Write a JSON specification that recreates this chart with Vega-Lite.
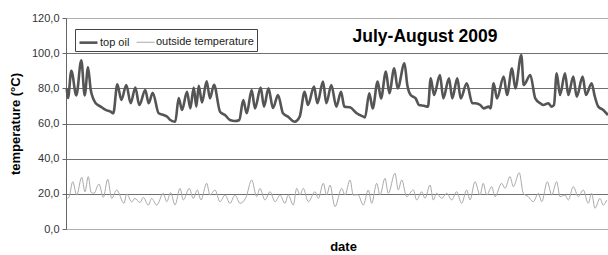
{
  "$schema": "https://vega.github.io/schema/vega-lite/v6.json",
  "autosize": {"type": "none"},
  "padding": {"left": 66, "top": 18, "right": 0, "bottom": 26},
  "width": 542,
  "height": 211,
  "background": "white",
  "title": {"text": "July-August 2009", "font": "Liberation Sans", "fontSize": 17.5, "fontWeight": "bold", "color": "#000000", "anchor": "middle", "dx": 88, "offset": -33},
  "config": {"font": "Liberation Sans", "view": {"stroke": null}},
  "data": {"values": [
    {"s":"top oil","d":0.08,"t":80},{"s":"top oil","d":0.23,"t":74.5},{"s":"top oil","d":0.61,"t":90},{"s":"top oil","d":1.18,"t":76},{"s":"top oil","d":1.75,"t":96},{"s":"top oil","d":2.14,"t":76},{"s":"top oil","d":2.52,"t":92},{"s":"top oil","d":2.83,"t":79},{"s":"top oil","d":3.4,"t":71.5},{"s":"top oil","d":3.97,"t":69.6},{"s":"top oil","d":4.54,"t":67.7},{"s":"top oil","d":5.11,"t":66.7},{"s":"top oil","d":5.41,"t":65.8},{"s":"top oil","d":5.87,"t":82.3},{"s":"top oil","d":6.33,"t":73.4},{"s":"top oil","d":6.9,"t":81.9},{"s":"top oil","d":7.4,"t":71.5},{"s":"top oil","d":7.93,"t":80.5},{"s":"top oil","d":8.38,"t":70.5},{"s":"top oil","d":9.07,"t":79},{"s":"top oil","d":9.46,"t":71.5},{"s":"top oil","d":9.92,"t":77.5},{"s":"top oil","d":10.6,"t":65.8},{"s":"top oil","d":11.18,"t":64.8},{"s":"top oil","d":11.55,"t":64},{"s":"top oil","d":11.93,"t":62},{"s":"top oil","d":12.5,"t":61},{"s":"top oil","d":12.89,"t":74.5},{"s":"top oil","d":13.27,"t":67.7},{"s":"top oil","d":13.84,"t":78},{"s":"top oil","d":14.22,"t":68.6},{"s":"top oil","d":14.61,"t":80.5},{"s":"top oil","d":14.91,"t":69.6},{"s":"top oil","d":15.18,"t":81.5},{"s":"top oil","d":15.56,"t":72},{"s":"top oil","d":16.09,"t":84},{"s":"top oil","d":16.47,"t":74.3},{"s":"top oil","d":16.93,"t":82},{"s":"top oil","d":17.62,"t":66.7},{"s":"top oil","d":18.19,"t":64.8},{"s":"top oil","d":18.76,"t":62},{"s":"top oil","d":19.33,"t":61.4},{"s":"top oil","d":19.82,"t":62},{"s":"top oil","d":20.28,"t":73.4},{"s":"top oil","d":20.67,"t":65.8},{"s":"top oil","d":21.24,"t":79},{"s":"top oil","d":21.62,"t":68.6},{"s":"top oil","d":22.27,"t":80.4},{"s":"top oil","d":22.65,"t":69.6},{"s":"top oil","d":23.16,"t":80},{"s":"top oil","d":23.68,"t":68.8},{"s":"top oil","d":24.25,"t":76.2},{"s":"top oil","d":24.82,"t":65.8},{"s":"top oil","d":25.39,"t":63.9},{"s":"top oil","d":26.16,"t":61},{"s":"top oil","d":26.73,"t":63.9},{"s":"top oil","d":27.3,"t":78},{"s":"top oil","d":27.68,"t":70.5},{"s":"top oil","d":28.37,"t":81},{"s":"top oil","d":28.75,"t":71.5},{"s":"top oil","d":29.4,"t":83.8},{"s":"top oil","d":29.78,"t":71.5},{"s":"top oil","d":30.35,"t":81.9},{"s":"top oil","d":30.92,"t":69.6},{"s":"top oil","d":31.46,"t":78},{"s":"top oil","d":31.84,"t":69.6},{"s":"top oil","d":32.49,"t":69.2},{"s":"top oil","d":33.25,"t":65.8},{"s":"top oil","d":34.01,"t":63.9},{"s":"top oil","d":34.2,"t":63.5},{"s":"top oil","d":34.69,"t":77.2},{"s":"top oil","d":35.08,"t":68.6},{"s":"top oil","d":35.65,"t":83.8},{"s":"top oil","d":36.03,"t":74.3},{"s":"top oil","d":36.6,"t":89.5},{"s":"top oil","d":36.98,"t":77.2},{"s":"top oil","d":37.55,"t":91.4},{"s":"top oil","d":37.94,"t":80},{"s":"top oil","d":38.72,"t":94.2},{"s":"top oil","d":39.04,"t":81.9},{"s":"top oil","d":39.43,"t":76.2},{"s":"top oil","d":40.0,"t":74.3},{"s":"top oil","d":40.38,"t":70.5},{"s":"top oil","d":40.95,"t":70.1},{"s":"top oil","d":41.41,"t":69.6},{"s":"top oil","d":41.72,"t":85.7},{"s":"top oil","d":42.1,"t":76.2},{"s":"top oil","d":42.78,"t":87.6},{"s":"top oil","d":43.16,"t":74.3},{"s":"top oil","d":43.81,"t":85.7},{"s":"top oil","d":44.19,"t":74.3},{"s":"top oil","d":44.76,"t":85.7},{"s":"top oil","d":45.15,"t":74.3},{"s":"top oil","d":45.84,"t":82.9},{"s":"top oil","d":46.48,"t":71.5},{"s":"top oil","d":46.82,"t":71.5},{"s":"top oil","d":47.39,"t":70.5},{"s":"top oil","d":47.78,"t":68.6},{"s":"top oil","d":48.35,"t":69.6},{"s":"top oil","d":48.56,"t":68.6},{"s":"top oil","d":48.92,"t":82.9},{"s":"top oil","d":49.3,"t":74.3},{"s":"top oil","d":50.07,"t":86.7},{"s":"top oil","d":50.45,"t":76.2},{"s":"top oil","d":51.02,"t":91.4},{"s":"top oil","d":51.4,"t":80},{"s":"top oil","d":52.08,"t":99},{"s":"top oil","d":52.36,"t":81.9},{"s":"top oil","d":53.11,"t":87.6},{"s":"top oil","d":53.68,"t":74.3},{"s":"top oil","d":54.26,"t":71.5},{"s":"top oil","d":54.6,"t":70.5},{"s":"top oil","d":55.17,"t":71.5},{"s":"top oil","d":55.56,"t":69.6},{"s":"top oil","d":55.82,"t":70.5},{"s":"top oil","d":56.13,"t":88.6},{"s":"top oil","d":56.51,"t":76.2},{"s":"top oil","d":57.08,"t":88.6},{"s":"top oil","d":57.46,"t":76.2},{"s":"top oil","d":58.03,"t":86.7},{"s":"top oil","d":58.42,"t":75.2},{"s":"top oil","d":59.1,"t":86.7},{"s":"top oil","d":59.48,"t":76.2},{"s":"top oil","d":60.13,"t":82.9},{"s":"top oil","d":60.46,"t":76},{"s":"top oil","d":60.89,"t":69.6},{"s":"top oil","d":61.46,"t":67.7},{"s":"top oil","d":62.0,"t":64.8},
    {"s":"outside temperature","d":0.08,"t":17.4},{"s":"outside temperature","d":0.34,"t":18},{"s":"outside temperature","d":0.77,"t":26.9},{"s":"outside temperature","d":1.22,"t":19.3},{"s":"outside temperature","d":1.8,"t":29.4},{"s":"outside temperature","d":2.17,"t":21.2},{"s":"outside temperature","d":2.55,"t":29.8},{"s":"outside temperature","d":2.86,"t":21},{"s":"outside temperature","d":3.2,"t":20.3},{"s":"outside temperature","d":3.77,"t":25.6},{"s":"outside temperature","d":4.27,"t":18},{"s":"outside temperature","d":4.77,"t":28.3},{"s":"outside temperature","d":5.23,"t":17.4},{"s":"outside temperature","d":5.8,"t":22.2},{"s":"outside temperature","d":6.63,"t":14.6},{"s":"outside temperature","d":6.94,"t":19.9},{"s":"outside temperature","d":7.52,"t":15.5},{"s":"outside temperature","d":7.89,"t":17.4},{"s":"outside temperature","d":8.46,"t":15},{"s":"outside temperature","d":8.84,"t":18},{"s":"outside temperature","d":9.41,"t":13.6},{"s":"outside temperature","d":9.8,"t":17.4},{"s":"outside temperature","d":10.38,"t":13.6},{"s":"outside temperature","d":11.13,"t":20.3},{"s":"outside temperature","d":11.52,"t":15.5},{"s":"outside temperature","d":11.98,"t":20.7},{"s":"outside temperature","d":12.47,"t":13.6},{"s":"outside temperature","d":13.04,"t":23.1},{"s":"outside temperature","d":13.42,"t":16.5},{"s":"outside temperature","d":14.1,"t":23.1},{"s":"outside temperature","d":14.56,"t":17.4},{"s":"outside temperature","d":15.02,"t":22.2},{"s":"outside temperature","d":15.44,"t":16.5},{"s":"outside temperature","d":16.09,"t":26},{"s":"outside temperature","d":16.47,"t":19.3},{"s":"outside temperature","d":17.04,"t":22.2},{"s":"outside temperature","d":17.62,"t":15.5},{"s":"outside temperature","d":18.19,"t":19.3},{"s":"outside temperature","d":18.76,"t":14.6},{"s":"outside temperature","d":19.33,"t":19.3},{"s":"outside temperature","d":19.91,"t":14.6},{"s":"outside temperature","d":20.59,"t":18},{"s":"outside temperature","d":21.24,"t":27.9},{"s":"outside temperature","d":21.81,"t":18.4},{"s":"outside temperature","d":22.19,"t":23.1},{"s":"outside temperature","d":22.76,"t":16.5},{"s":"outside temperature","d":23.34,"t":21.2},{"s":"outside temperature","d":23.91,"t":15.5},{"s":"outside temperature","d":24.48,"t":19.3},{"s":"outside temperature","d":25.05,"t":14.6},{"s":"outside temperature","d":25.43,"t":19.3},{"s":"outside temperature","d":26.0,"t":13.6},{"s":"outside temperature","d":26.39,"t":23.1},{"s":"outside temperature","d":26.77,"t":19.3},{"s":"outside temperature","d":27.14,"t":23.1},{"s":"outside temperature","d":27.72,"t":15.5},{"s":"outside temperature","d":28.48,"t":21.2},{"s":"outside temperature","d":28.86,"t":17.4},{"s":"outside temperature","d":29.43,"t":26},{"s":"outside temperature","d":29.82,"t":19.3},{"s":"outside temperature","d":30.2,"t":25},{"s":"outside temperature","d":30.77,"t":12.7},{"s":"outside temperature","d":31.54,"t":23.1},{"s":"outside temperature","d":31.91,"t":19.3},{"s":"outside temperature","d":32.49,"t":27.9},{"s":"outside temperature","d":32.86,"t":19.3},{"s":"outside temperature","d":33.4,"t":19.5},{"s":"outside temperature","d":34.01,"t":13.6},{"s":"outside temperature","d":34.58,"t":22.2},{"s":"outside temperature","d":34.97,"t":14.6},{"s":"outside temperature","d":35.54,"t":26},{"s":"outside temperature","d":35.92,"t":19.3},{"s":"outside temperature","d":36.49,"t":28.8},{"s":"outside temperature","d":36.87,"t":20.3},{"s":"outside temperature","d":37.63,"t":31.7},{"s":"outside temperature","d":38.01,"t":22.2},{"s":"outside temperature","d":38.4,"t":27.9},{"s":"outside temperature","d":38.97,"t":18.4},{"s":"outside temperature","d":39.73,"t":22.2},{"s":"outside temperature","d":40.12,"t":16.5},{"s":"outside temperature","d":40.69,"t":21.2},{"s":"outside temperature","d":41.07,"t":17.4},{"s":"outside temperature","d":41.64,"t":25},{"s":"outside temperature","d":42.02,"t":16.5},{"s":"outside temperature","d":42.4,"t":20.3},{"s":"outside temperature","d":42.98,"t":17.4},{"s":"outside temperature","d":43.55,"t":20.3},{"s":"outside temperature","d":44.12,"t":16.5},{"s":"outside temperature","d":44.69,"t":21.2},{"s":"outside temperature","d":45.26,"t":14.6},{"s":"outside temperature","d":45.84,"t":22.2},{"s":"outside temperature","d":46.21,"t":16.5},{"s":"outside temperature","d":46.79,"t":26.9},{"s":"outside temperature","d":47.36,"t":19.3},{"s":"outside temperature","d":47.73,"t":26},{"s":"outside temperature","d":48.12,"t":19.3},{"s":"outside temperature","d":48.7,"t":24.1},{"s":"outside temperature","d":49.07,"t":18.4},{"s":"outside temperature","d":49.84,"t":26},{"s":"outside temperature","d":50.22,"t":23.1},{"s":"outside temperature","d":50.79,"t":29.8},{"s":"outside temperature","d":51.17,"t":24.1},{"s":"outside temperature","d":51.85,"t":32},{"s":"outside temperature","d":52.31,"t":20.3},{"s":"outside temperature","d":52.88,"t":18.4},{"s":"outside temperature","d":53.45,"t":15.5},{"s":"outside temperature","d":54.03,"t":20.3},{"s":"outside temperature","d":54.42,"t":15.5},{"s":"outside temperature","d":55.06,"t":26.9},{"s":"outside temperature","d":55.56,"t":19.3},{"s":"outside temperature","d":56.13,"t":26.9},{"s":"outside temperature","d":56.51,"t":18.4},{"s":"outside temperature","d":57.08,"t":19.3},{"s":"outside temperature","d":57.46,"t":16.5},{"s":"outside temperature","d":58.03,"t":24.1},{"s":"outside temperature","d":58.6,"t":18.4},{"s":"outside temperature","d":59.17,"t":22.2},{"s":"outside temperature","d":59.74,"t":14.6},{"s":"outside temperature","d":60.13,"t":20.3},{"s":"outside temperature","d":60.51,"t":11.8},{"s":"outside temperature","d":61.08,"t":17.4},{"s":"outside temperature","d":61.46,"t":13.6},{"s":"outside temperature","d":61.85,"t":16.5}
  ]},
  "mark": {"type": "line", "interpolate": "monotone"},
  "encoding": {
    "x": {"field": "d", "type": "quantitative", "scale": {"domain": [0, 62], "nice": false, "zero": false},
      "axis": {"labels": false, "ticks": false, "grid": false, "title": "date", "titleFont": "Liberation Sans", "titleFontSize": 13, "titleFontWeight": "bold", "titleColor": "#000000", "titlePadding": 11, "domainColor": "#b0b0b0", "domainWidth": 1, "titleX": 277}},
    "y": {"field": "t", "type": "quantitative", "scale": {"domain": [0, 120], "nice": false},
      "axis": {"values": [0, 20, 40, 60, 80, 100, 120], "labelExpr": "replace(format(datum.value, '.1f'), '.', ',')", "labelFont": "Liberation Sans", "labelFontSize": 11, "labelColor": "#333333", "labelPadding": 3, "tickSize": 4, "tickColor": "#666666", "domainColor": "#666666", "gridColor": {"condition": {"test": "datum.value === 0 || datum.value === 120", "value": "#b0b0b0"}, "value": "#707070"}, "gridWidth": 1, "title": "temperature (°C)", "titleFont": "Liberation Sans", "titleFontSize": 13, "titleFontWeight": "bold", "titleColor": "#000000", "titlePadding": 9}},
    "color": {"field": "s", "type": "nominal", "scale": {"domain": ["top oil", "outside temperature"], "range": ["#555555", "#aaaaaa"]},
      "legend": {"orient": "none", "legendX": 9, "legendY": 11, "direction": "horizontal", "title": null, "symbolType": "stroke", "symbolSize": 324, "labelFont": "Liberation Sans", "labelFontSize": 11, "labelFontWeight": "normal", "labelColor": "#222222", "strokeColor": "#444444", "fillColor": "white", "padding": 3, "columnPadding": 4, "labelOffset": 1}},
    "strokeWidth": {"field": "s", "type": "ordinal", "scale": {"domain": ["top oil", "outside temperature"], "range": [2.6, 1]},
      "legend": {"orient": "none", "legendX": 9, "legendY": 11, "direction": "horizontal", "title": null, "symbolType": "stroke", "symbolSize": 324, "labelFont": "Liberation Sans", "labelFontSize": 11, "labelFontWeight": "normal", "labelColor": "#222222", "strokeColor": "#444444", "fillColor": "white", "padding": 3, "columnPadding": 4, "labelOffset": 1}}
  }
}
